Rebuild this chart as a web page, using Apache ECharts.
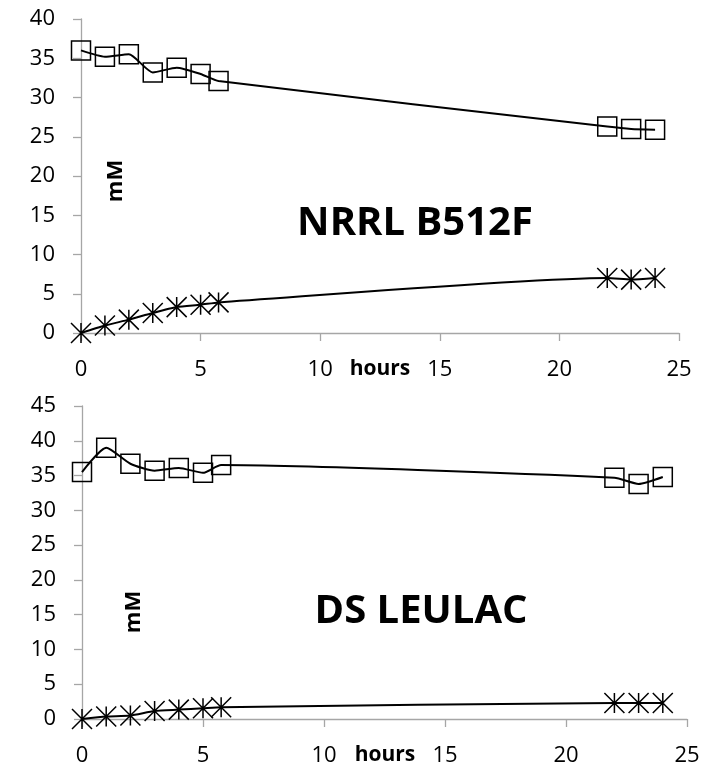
<!DOCTYPE html>
<html>
<head>
    <meta charset="utf-8">
    <title>NRRL B512F / DS LEULAC</title>
    <script src="https://cdn.jsdelivr.net/npm/echarts@6/dist/echarts.min.js"></script>
    <style>
        html, body {
            height: 100%;
            margin: 0;
            padding: 0;
            background-color: #fff;
        }
    </style>
</head>
<body>
<div id="chart-box" style="width:708px; height:764px;"></div>
<script type="text/javascript">
    // sampling times (h)
    const hours = [0, 1, 2, 3, 4, 5, 5.75, 22, 23, 24];
    // NRRL B512F, mM
    const nrrlSquare = [36.0, 35.2, 35.5, 33.2, 33.8, 33.0, 32.1, 26.3, 26.0, 25.9];
    const nrrlStar = [0, 0.95, 1.7, 2.55, 3.3, 3.6, 3.9, 7.0, 6.8, 7.0];
    // DS LEULAC, mM
    const dsSquare = [35.5, 39.0, 36.7, 35.7, 36.1, 35.4, 36.5, 34.7, 33.8, 34.8];
    const dsStar = [0, 0.35, 0.5, 1.15, 1.35, 1.55, 1.7, 2.3, 2.3, 2.3];

    const xTicks = {min: 0, max: 25, interval: 5};
    const yMaxTop = 40;
    const yMaxBottom = 45;

    const font = "Open Sans";
    const axisGray = "#a6a6a6";
    const starPath = "path://M10,0L10,20M0,0L20,20M0,20L20,0";

    const pairs = arr => hours.map((h, i) => [h, arr[i]]);

    const chart = echarts.init(document.getElementById("chart-box"));

    const xAxisOf = (gridIndex) => ({
        type: "value",
        gridIndex: gridIndex,
        min: xTicks.min,
        max: xTicks.max,
        interval: xTicks.interval,
        axisLine: {show: true, lineStyle: {color: axisGray, width: 1.3}},
        axisTick: {show: true, length: 8, lineStyle: {color: axisGray, width: 1.3}},
        axisLabel: {fontFamily: font, fontSize: 22, color: "#000", margin: 26},
        splitLine: {show: false}
    });

    const yAxisOf = (gridIndex, max) => ({
        type: "value",
        gridIndex: gridIndex,
        min: 0,
        max: max,
        interval: 5,
        axisLine: {show: true, lineStyle: {color: axisGray, width: 1.3}},
        axisTick: {show: true, length: 8, lineStyle: {color: axisGray, width: 1.3}},
        axisLabel: {fontFamily: font, fontSize: 22, color: "#000", margin: 26},
        splitLine: {show: false}
    });

    const lineSeries = (idx, data, marker) => ({
        type: "line",
        xAxisIndex: idx,
        yAxisIndex: idx,
        data: pairs(data),
        smooth: 0.2,
        symbol: marker === "square" ? "rect" : starPath,
        symbolSize: marker === "square" ? 19 : 20,
        showAllSymbol: true,
        lineStyle: {color: "#000", width: 2},
        itemStyle: {color: "rgba(0,0,0,0)", borderColor: "#000", borderWidth: 1.5},
        animation: false
    });

    const label = (text, x, y, size, rot) => ({
        type: "text", x: x, y: y, rotation: rot || 0,
        style: {text: text, font: "bold " + size + "px 'Open Sans'", fill: "#000", align: "center", verticalAlign: "middle"}
    });

    const option = {
        animation: false,
        grid: [
            {left: 81, right: 29, top: 19, height: 314, outerBoundsMode: "none"},
            {left: 82, right: 21, top: 406, height: 313, outerBoundsMode: "none"}
        ],
        xAxis: [xAxisOf(0), xAxisOf(1)],
        yAxis: [yAxisOf(0, yMaxTop), yAxisOf(1, yMaxBottom)],
        series: [
            lineSeries(0, nrrlSquare, "square"),
            lineSeries(0, nrrlStar, "star"),
            lineSeries(1, dsSquare, "square"),
            lineSeries(1, dsStar, "star")
        ],
        graphic: [
            label("NRRL B512F", 415, 224, 40),
            label("DS LEULAC", 421, 612, 40),
            label("mM", 116, 181, 22, Math.PI / 2),
            label("mM", 134, 612, 22, Math.PI / 2),
            label("hours", 380, 369, 21),
            label("hours", 385, 755, 21)
        ]
    };

    chart.setOption(option);
</script>
</body>
</html>
